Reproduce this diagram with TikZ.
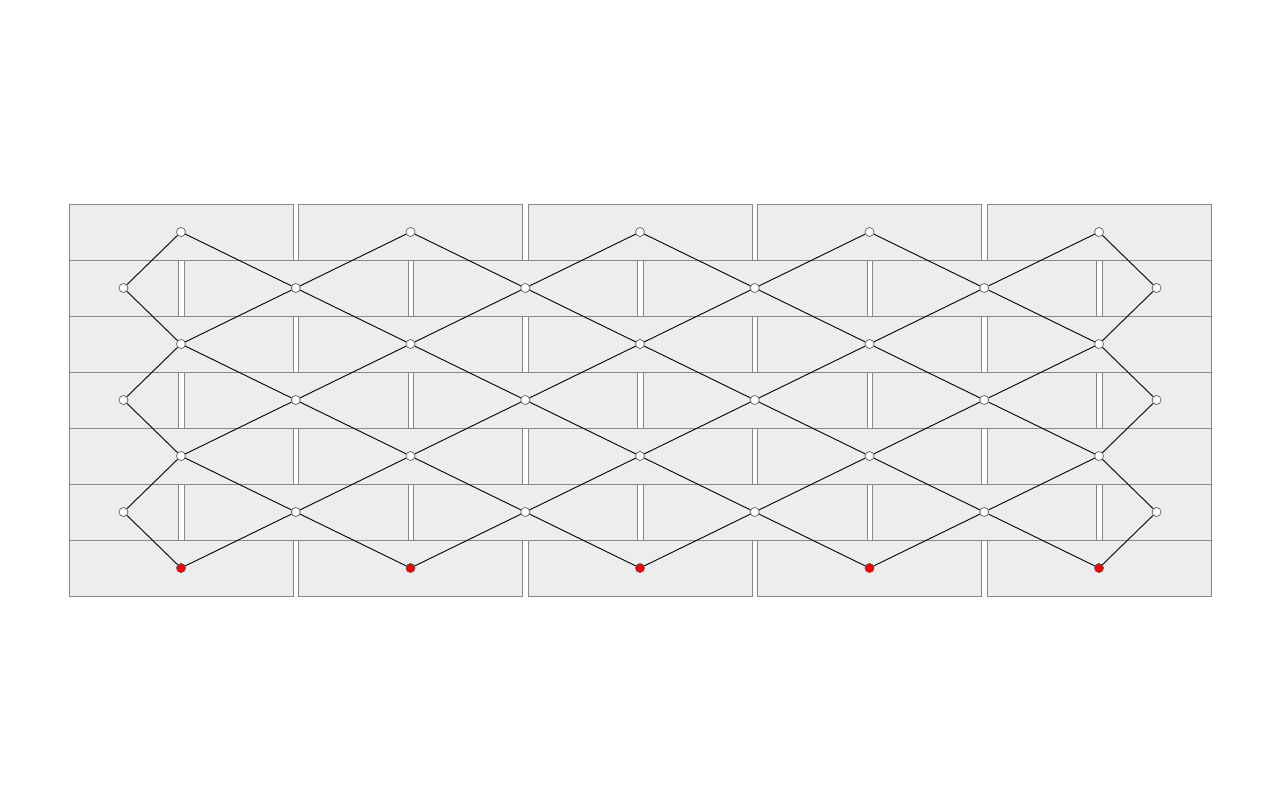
\documentclass[tikz,border=0pt]{standalone}
\begin{document}
\begin{tikzpicture}[x=1pt,y=-1pt,
  brick/.style={fill=black!7,draw=black!47,line width=0.9pt},
  vtx/.style={circle,draw=black!70,fill=white,line width=0.6pt,minimum size=9pt,inner sep=0pt},
  redvtx/.style={vtx,fill=red},
  link/.style={draw=black,line width=0.9pt}]
\useasboundingbox (0,0) rectangle (1280,800);
% bricks
\foreach \r in {0,2,4,6}{
  \foreach \i in {0,...,4}{
    \path[brick] ({69+229.5*\i},{204.5+56*\r}) rectangle ++(224,56);
  }
}
\foreach \r in {1,3,5}{
  \path[brick] (69,{204.5+56*\r}) rectangle (178.5,{260.5+56*\r});
  \foreach \i in {0,...,3}{
    \path[brick] ({184+229.5*\i},{204.5+56*\r}) rectangle ++(224,56);
  }
  \path[brick] (1102,{204.5+56*\r}) rectangle (1211,{260.5+56*\r});
}
% coordinates of columns
\def\colx#1{\ifcase#1 123.5\or 181\or 295.75\or 410.5\or 525.25\or 640\or 754.75\or 869.5\or 984.25\or 1099\or 1156.5\fi}
% nodes
\foreach \r in {0,2,4}{
  \foreach \c in {1,3,5,7,9}{
    \node[vtx] (n-\r-\c) at ({\colx{\c}},{232+56*\r}) {};
  }
}
\foreach \c in {1,3,5,7,9}{
  \node[redvtx] (n-6-\c) at ({\colx{\c}},568) {};
}
\foreach \r in {1,3,5}{
  \foreach \c in {0,2,4,6,8,10}{
    \node[vtx] (n-\r-\c) at ({\colx{\c}},{232+56*\r}) {};
  }
}
% links
\begin{scope}[on background layer/.style={}]
\end{scope}
\foreach \r/\s in {0/1,2/3,4/5}{
  \foreach \c/\a/\b in {1/0/2,3/2/4,5/4/6,7/6/8,9/8/10}{
    \draw[link] (n-\r-\c) -- (n-\s-\a);
    \draw[link] (n-\r-\c) -- (n-\s-\b);
  }
}
\foreach \r/\s in {2/1,4/3,6/5}{
  \foreach \c/\a/\b in {1/0/2,3/2/4,5/4/6,7/6/8,9/8/10}{
    \draw[link] (n-\r-\c) -- (n-\s-\a);
    \draw[link] (n-\r-\c) -- (n-\s-\b);
  }
}
\end{tikzpicture}
\end{document}
